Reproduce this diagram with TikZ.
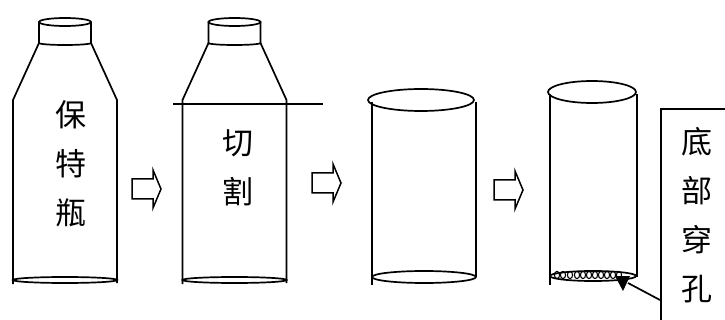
\documentclass[tikz,border=0pt]{standalone}
\usepackage{fontspec}
\newfontfamily\cjk{Noto Sans CJK SC}

\tikzset{
    bottle/.pic={
        % cap
        \draw (0,22) ellipse [x radius=26pt, y radius=4pt];
        \draw (-26,22) -- (-26,43) arc [start angle=180, end angle=360, x radius=26pt, y radius=2pt] -- (26,22);
        % shoulders and body
        \draw (-26,43) -- (-52,100) -- (-52,284);
        \draw (26,43) -- (52,100) -- (52,283);
        \draw (0,280) ellipse [x radius=52pt, y radius=3pt];
    },
    blockarrow/.pic={
        \draw [line width=1.5pt, line join=miter] (0,-10) -- (21,-10) -- (21,-19) -- (29,0) -- (21,19) -- (21,10) -- (0,10) -- cycle;
    },
}

\begin{document}
\begin{tikzpicture}
[
    x=1pt, y=-1pt, line width=1.7pt,
    lbl/.style={font=\cjk\fontsize{31}{49}\selectfont, align=center, inner sep=0pt},
]
\clip (0,0) rectangle (725,320);

% whole bottle
\pic at (65,0) {bottle};
\node [lbl] (bottletext) at (71,164) {保\\特\\瓶};
\pic at (132,189) {blockarrow};

% bottle with the cut line
\pic at (234.5,0) {bottle};
\draw (173,104) -- (323,104);
\node [lbl] (cuttext) at (238,168) {切\\割};
\pic at (312,183) {blockarrow};

% tube left after cutting
\draw (421,100) ellipse [x radius=53pt, y radius=11pt];
\draw (372,102) -- (372,285);
\draw (476,102) -- (476,277);
\draw (424,277) ellipse [x radius=52pt, y radius=6pt];
\pic at (494,190) {blockarrow};

% tube with holes in the bottom
\draw (592,92) ellipse [x radius=44pt, y radius=11pt];
\draw (550,94) -- (550,285);
\draw (637,94) -- (637,277);
\draw (593,276) ellipse [x radius=43pt, y radius=5pt];
\foreach \x in {557,563,570,577,583,589,595,601,607,613,619}
    \draw [line width=1.1pt] (\x,275) ellipse [x radius=2.6pt, y radius=3.6pt];
\coordinate (holes) at (628,283);

\node [draw, anchor=north west, minimum width=100pt, minimum height=250pt] (note) at (660,108) {};
\node [lbl] (notetext) at (697,215) {底\\部\\穿\\孔};
\draw (note.west |- 0,300) -- (holes);
\fill ([shift={(-13,-7)}]holes) -- ([shift={(2,-7)}]holes) -- ([shift={(-5,8)}]holes) -- cycle;
\end{tikzpicture}
\end{document}
